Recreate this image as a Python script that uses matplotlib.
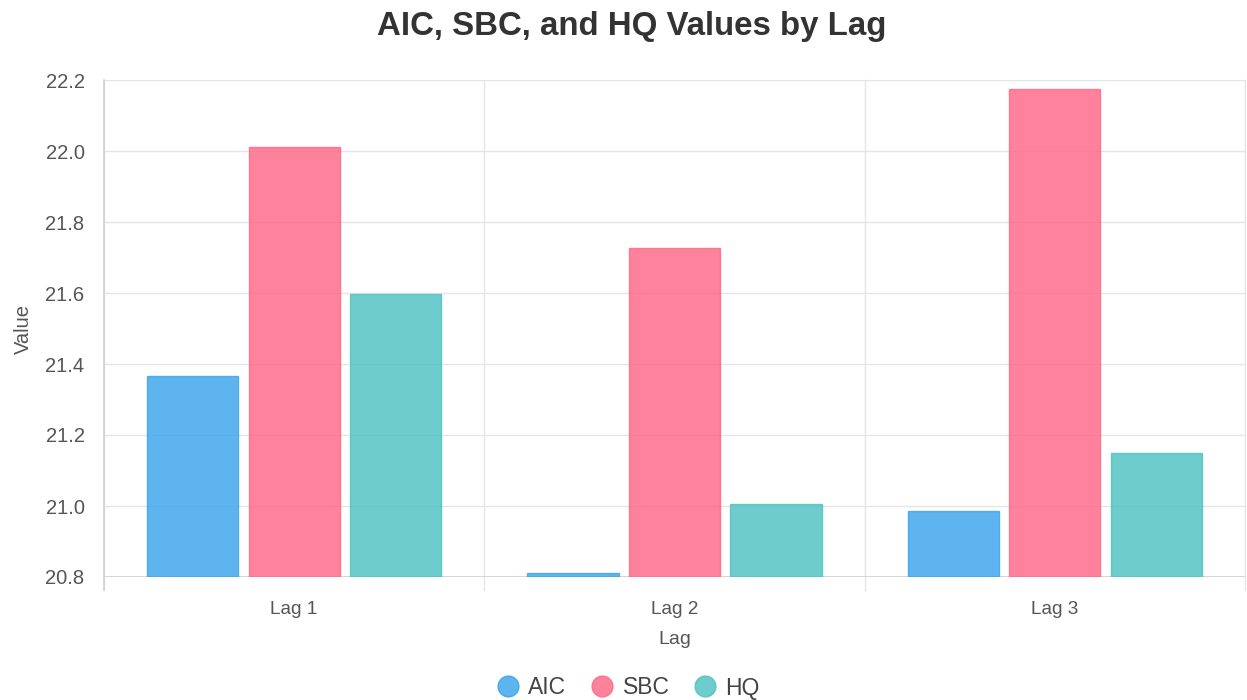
import matplotlib.pyplot as plt
from matplotlib.lines import Line2D
import numpy as np

lags = ["Lag 1", "Lag 2", "Lag 3"]
aic = [21.366, 20.812, 20.986]
sbc = [22.011, 21.727, 22.175]
hq = [21.597, 21.006, 21.149]

series = [("AIC", aic, "#36a2eb"),
          ("SBC", sbc, "#ff6384"),
          ("HQ", hq, "#4bc0c0")]

plt.rcParams['font.family'] = ['Liberation Sans', 'DejaVu Sans']

fig = plt.figure(figsize=(12.47, 7.0), dpi=100)
ax = fig.add_axes([104/1247, 1 - 577/700, (1245-104)/1247, (577-80)/700])

x = np.arange(len(lags))
slot = 0.8 / 3
width = slot * 0.9
base = 20.8
for i, (name, vals, col) in enumerate(series):
    pos = x - 0.4 + slot * (i + 0.5)
    heights = [v - base for v in vals]
    ax.bar(pos, heights, width, bottom=base, color=col, alpha=0.8,
           edgecolor=col, linewidth=1, zorder=3)

ax.set_xlim(-0.5, 2.5)
ax.set_ylim(20.8, 22.2)
ax.set_yticks(np.arange(20.8, 22.21, 0.2))
ax.set_yticklabels([f"{t:.1f}" for t in np.arange(20.8, 22.21, 0.2)])
ax.set_xticks(x)
ax.set_xticklabels(lags)

ax.grid(axis='y', color='#e5e5e5', linewidth=1, zorder=0)
for xv in [-0.5, 0.5, 1.5, 2.5]:
    ax.axvline(xv, color='#e5e5e5', linewidth=1, zorder=0, ymin=-13/497, clip_on=False)
for s in ['top', 'right', 'bottom', 'left']:
    ax.spines[s].set_visible(False)
ax.axhline(20.8, color='#d0d0d0', linewidth=1.2, zorder=2)
ax.axvline(-0.5, color='#d0d0d0', linewidth=1.2, zorder=2, ymin=-13/497, clip_on=False)
ax.tick_params(axis='both', length=0, labelcolor='#555555')
ax.tick_params(axis='x', pad=17, labelsize=13.7)
ax.tick_params(axis='y', pad=14, labelsize=14.5)

ax.set_xlabel("Lag", fontsize=14, color='#555555', labelpad=10)
ax.set_ylabel("Value", fontsize=14.5, color='#555555', labelpad=9)

fig.suptitle("AIC, SBC, and HQ Values by Lag", fontsize=23.8, fontweight='bold',
             color='#333333', x=632/1247, y=1 - 27/700, va='center')

handles = [Line2D([0], [0], marker='o', linestyle='', markersize=15,
                  markerfacecolor=col, markeredgecolor=col, alpha=0.8)
           for name, vals, col in series]
fig.legend(handles, [s[0] for s in series], loc='center', ncol=3,
           bbox_to_anchor=(627/1247, 1 - 688/700), frameon=False, fontsize=16.5,
           handlelength=1.2, handletextpad=0.3, columnspacing=0.95,
           labelcolor='#444444')

fig.savefig("out.png", dpi=100)
